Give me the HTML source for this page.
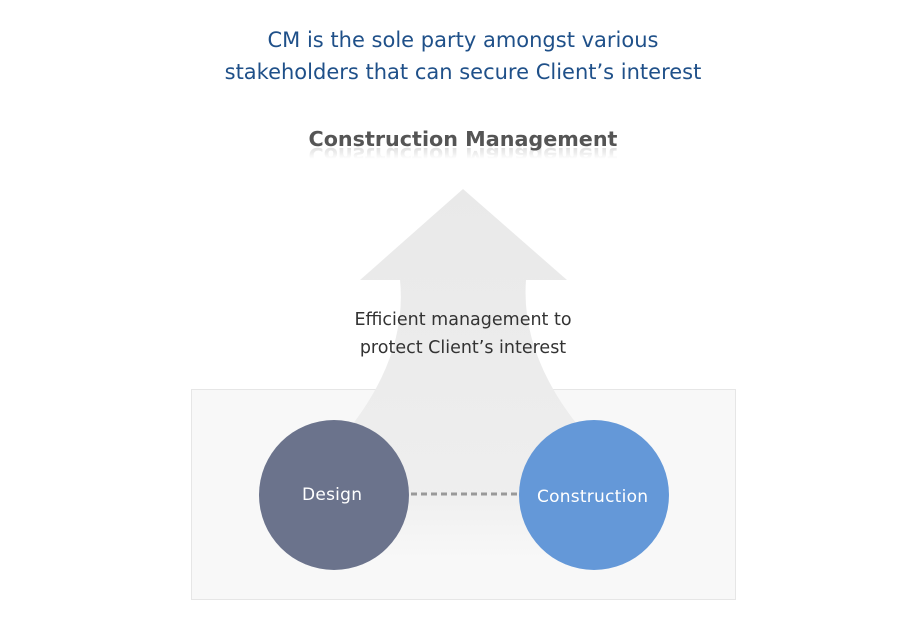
<!DOCTYPE html>
<html><head><style>
body{margin:0;width:900px;height:625px;background:#fff;position:relative;overflow:hidden;font-family:"DejaVu Sans",sans-serif}
.t{position:absolute;left:0;width:926px;text-align:center}
</style></head><body>
<div class="t" style="top:24px;font-size:21px;line-height:32px;color:#1f5089">CM is the sole party amongst various<br>stakeholders that can secure Client’s interest</div>
<div class="t" style="top:126px;font-size:20.7px;font-weight:bold;color:#555;line-height:26px">Construction Management</div>
<div class="t" style="top:142px;font-size:20.7px;font-weight:bold;color:#555;line-height:26px;transform:scaleY(-1);opacity:0.28;height:26px;overflow:hidden;-webkit-mask-image:linear-gradient(to bottom,transparent 35%,#000 100%)">Construction Management</div>
<svg width="900" height="625" style="position:absolute;left:0;top:0">
<defs>
<linearGradient id="g" x1="0" y1="0" x2="0" y2="1"><stop offset="0" stop-color="#e9e9e9"/><stop offset="0.8" stop-color="#eeeeee"/><stop offset="1" stop-color="#f8f8f8"/></linearGradient>
</defs>
<rect x="191.5" y="389.5" width="544" height="210" fill="#f8f8f8" stroke="#e6e6e6"/>
<path d="M463 189 L567 280 L526 280 Q520 360 590 440 L590 560 L340 560 L340 440 Q408 360 400 280 L360 280 Z" fill="url(#g)"/>
<circle cx="334" cy="495" r="75" fill="#6b738c"/>
<circle cx="594" cy="495" r="75" fill="#6498d8"/>
<line x1="411" y1="494" x2="518" y2="494" stroke="#9a9a9a" stroke-width="3" stroke-dasharray="6 4"/>
<text x="302" y="500" font-size="17" fill="#fff" textLength="60" font-family="DejaVu Sans">Design</text>
<text x="537" y="502" font-size="17" fill="#fff" textLength="111" font-family="DejaVu Sans">Construction</text>
</svg>
<div class="t" style="top:306px;font-size:17.5px;line-height:28px;color:#333">Efficient management to<br>protect Client’s interest</div>
</body></html>
